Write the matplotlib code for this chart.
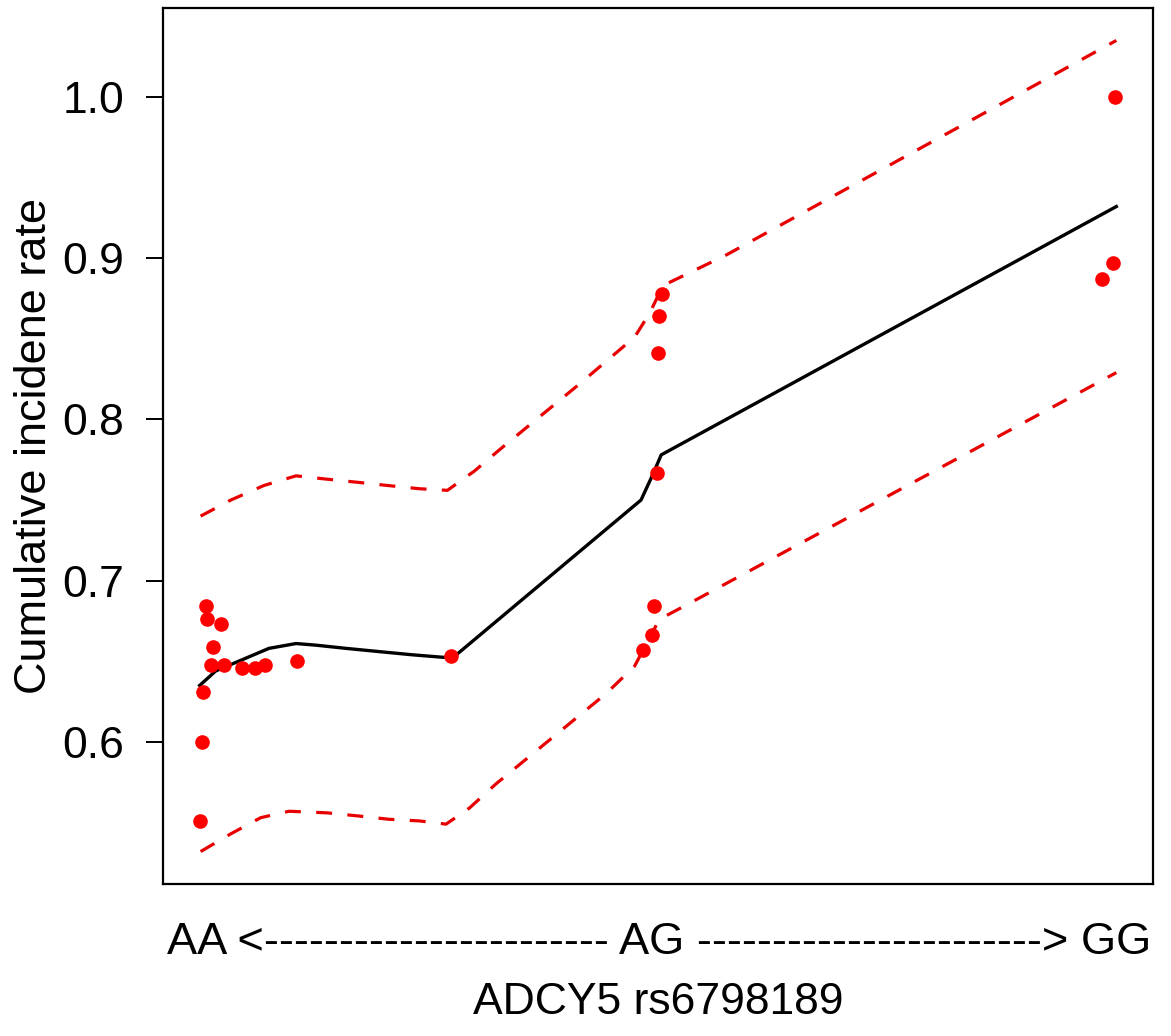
import matplotlib
matplotlib.use("Agg")
import matplotlib.pyplot as plt

plt.rcParams['font.family'] = ['Liberation Sans', 'DejaVu Sans']

# observed points (dosage, cumulative incidence)
pt_x = [0.015, 0.019, 0.048, 0.032, 0.026, 0.055, 0.095, 0.123, 0.145, 0.215, 0.550, 0.009, 0.007, 0.002,
        1.010, 1.004, 1.001, 0.998, 0.993, 0.988, 0.968,
        1.997, 1.993, 1.968]
pt_y = [0.684, 0.676, 0.673, 0.659, 0.648, 0.648, 0.646, 0.646, 0.648, 0.650, 0.653, 0.631, 0.600, 0.551,
        0.878, 0.864, 0.841, 0.767, 0.684, 0.666, 0.657,
        1.000, 0.897, 0.887]

# fitted curve
fit_x = [0.002, 0.037, 0.095, 0.153, 0.212, 0.255, 0.321, 0.393, 0.466, 0.553, 0.964, 0.990, 1.008, 2.0]
fit_y = [0.635, 0.644, 0.651, 0.658, 0.661, 0.660, 0.658, 0.656, 0.654, 0.652, 0.750, 0.766, 0.778, 0.932]

# confidence band
upper_x = [0.004, 0.070, 0.142, 0.212, 0.277, 0.346, 0.412, 0.481, 0.542, 0.601, 0.659, 0.830, 0.950, 0.983, 1.012, 1.15, 2.0]
upper_y = [0.740, 0.750, 0.759, 0.765, 0.763, 0.761, 0.759, 0.757, 0.756, 0.768, 0.782, 0.822, 0.851, 0.866, 0.883, 0.902, 1.035]
lower_x = [0.004, 0.070, 0.135, 0.197, 0.280, 0.350, 0.415, 0.481, 0.539, 0.590, 0.648, 0.888, 0.950, 1.004, 1.07, 2.0]
lower_y = [0.532, 0.543, 0.553, 0.557, 0.556, 0.554, 0.552, 0.551, 0.549, 0.559, 0.574, 0.630, 0.647, 0.676, 0.686, 0.829]

y_ticks = [0.6, 0.7, 0.8, 0.9, 1.0]
geno_text = "AA <" + "-" * 23 + " AG " + "-" * 23 + "> GG"
x_title = "ADCY5 rs6798189"
y_title = "Cumulative incidene rate"

fig = plt.figure(figsize=(11.71, 10.36), dpi=100)
ax = fig.add_axes([163 / 1171, 1 - 884 / 1036, 990 / 1171, 876 / 1036])

# band, fit, points
ax.plot(upper_x, upper_y, color="#e80000", lw=2.3, dashes=(5, 4.8))
ax.plot(lower_x, lower_y, color="#e80000", lw=2.3, dashes=(5, 4.8))
ax.plot(fit_x, fit_y, color="black", lw=2.4)
ax.plot(pt_x, pt_y, "o", color="red", ms=9.5, mec="red", zorder=3)

ax.margins(0.04)
ax.set_xticks([])
ax.set_yticks(y_ticks)
ax.set_yticklabels(["%.1f" % v for v in y_ticks])
ax.tick_params(axis="y", length=12, width=1.4, pad=16, labelsize=32)
for s in ax.spines.values():
    s.set_linewidth(1.6)

fig.text(659 / 1171, 1 - 943 / 1036, geno_text, ha="center", va="center", fontsize=32.6)
fig.text(658 / 1171, 1 - 1002 / 1036, x_title, ha="center", va="center", fontsize=32)
fig.text(35 / 1171, 1 - 446 / 1036, y_title, ha="center", va="center", rotation=90, fontsize=32.5)

fig.savefig("out.png", dpi=100)
